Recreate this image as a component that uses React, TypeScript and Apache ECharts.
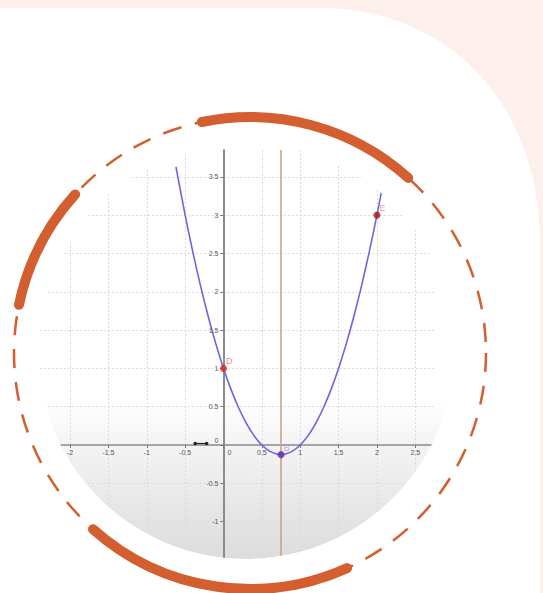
import React, { useEffect, useRef } from "react";
import * as echarts from "echarts";

// Parabola (x, y)
const curveX = [
  -0.62, -0.5, -0.4, -0.3, -0.2, -0.1, 0, 0.1, 0.2, 0.3, 0.4, 0.5, 0.6, 0.7, 0.75,
  0.8, 0.9, 1, 1.1, 1.2, 1.3, 1.4, 1.5, 1.6, 1.7, 1.8, 1.9, 2, 2.06,
];
const curveY = [
  3.63, 3.0, 2.52, 2.08, 1.68, 1.32, 1, 0.72, 0.48, 0.28, 0.12, 0, -0.08, -0.12, -0.125,
  -0.12, -0.08, 0, 0.12, 0.28, 0.48, 0.72, 1, 1.32, 1.68, 2.08, 2.52, 3, 3.31,
];

// Named points
const pointNames = ["D", "E", "B"];
const pointX = [0, 2, 0.75];
const pointY = [1, 3, -0.125];
const pointColors = ["#e3231c", "#a8161a", "#5b2aa6"];
const pointLabelColors = ["#f06464", "#f28a8a", "#b48ae6"];

// Vertical (axis of symmetry) line
const symmetryX = [0.75];

// Small segment on the x-axis
const segX = [-0.37, -0.22];
const segY = [0.02, 0.02];

// Axis ranges (ticks every 0.5)
const xRange = [-2.5, 2.75];
const yRange = [-1.5, 3.85];
const tickStep = 0.5;

const ORANGE = "#d35f30";

export default function App() {
  const ref = useRef<HTMLDivElement>(null);

  useEffect(() => {
    if (!ref.current) return;
    echarts.graphic.registerShape(
      "cardShape",
      echarts.graphic.extendPath("M-10 8 H320 C445 8 540 100 540 245 V610 H-10 Z", {})
    );
    echarts.graphic.registerShape(
      "maskShape",
      echarts.graphic.extendPath(
        "M18 128 H472 V580 H18 Z M454 351 A208 208 0 1 0 38 351 A208 208 0 1 0 454 351 Z",
        {}
      )
    );
    const chart = echarts.init(ref.current, undefined, { renderer: "svg" });

    const deg = (d: number) => (d * Math.PI) / 180;
    const C = { cx: 250, cy: 353, r: 236 };

    const gridLeft = 31.75;
    const gridWidth = 402.7;
    const gridTop = 150;
    const gridHeight = 410;
    // where zero falls inside the grid (layout offsets for the axes)
    const zeroXOffset = -gridWidth * (0 - xRange[0]) / (xRange[1] - xRange[0]);
    const zeroYOffset = -gridHeight * (0 - yRange[0]) / (yRange[1] - yRange[0]);

    const axisLabelBase = {
      fontSize: 7,
      color: "#555",
      fontFamily: "Liberation Sans, Arial, sans-serif",
    };

    chart.setOption({
      animation: false,
      backgroundColor: "#fdefeb",
      grid: { left: gridLeft, width: gridWidth, top: gridTop, height: gridHeight },
      xAxis: {
        type: "value",
        position: "bottom",
        offset: zeroYOffset,
        min: xRange[0],
        max: xRange[1],
        interval: tickStep,
        axisLine: { onZero: false, lineStyle: { color: "#8c8c8c", width: 1.5 } },
        axisTick: { show: true, length: 3, lineStyle: { color: "#777" } },
        axisLabel: {
          ...axisLabelBase,
          margin: 4,
          showMaxLabel: false,
          formatter: (v: number) => (v === 0 ? "{z|0}" : String(v)),
          rich: { z: { ...axisLabelBase, padding: [0, 0, 0, 12] } },
        },
        splitLine: {
          show: true,
          showMaxLine: false,
          lineStyle: { color: "#dadada", type: [2, 2], width: 1 },
        },
      },
      yAxis: {
        type: "value",
        position: "left",
        offset: zeroXOffset,
        min: yRange[0],
        max: yRange[1],
        interval: tickStep,
        axisLine: { onZero: false, lineStyle: { color: "#8c8c8c", width: 2 } },
        axisTick: { show: true, length: 3, lineStyle: { color: "#777" } },
        axisLabel: {
          ...axisLabelBase,
          margin: 5,
          showMaxLabel: false,
          formatter: (v: number) => (v === 0 ? "{z|0}" : String(v)),
          rich: { z: { ...axisLabelBase, padding: [0, 0, 10, 0] } },
        },
        splitLine: {
          show: true,
          showMaxLine: false,
          lineStyle: { color: "#dadada", type: [2, 2], width: 1 },
        },
      },
      series: [
        {
          type: "line",
          data: curveX.map((x, i) => [x, curveY[i]]),
          smooth: 0.3,
          showSymbol: false,
          symbol: "none",
          lineStyle: { color: "#6a66e0", width: 1.6 },
          z: 3,
          markLine: {
            silent: true,
            symbol: "none",
            label: { show: false },
            lineStyle: { color: "#c9a07f", type: "solid", width: 1.5 },
            data: symmetryX.map((x) => ({ xAxis: x })),
          },
        },
        {
          type: "line",
          data: segX.map((x, i) => [x, segY[i]]),
          symbol: "circle",
          symbolSize: 3.5,
          lineStyle: { color: "#222", width: 1.2 },
          itemStyle: { color: "#222" },
          z: 4,
        },
        {
          type: "scatter",
          data: pointNames.map((n, i) => ({
            name: n,
            value: [pointX[i], pointY[i]],
            itemStyle: { color: pointColors[i] },
            label: { color: pointLabelColors[i] },
          })),
          symbolSize: 7,
          z: 5,
          label: {
            show: true,
            formatter: "{b}",
            position: [6, -8],
            fontSize: 9,
            fontFamily: "Liberation Sans, Arial, sans-serif",
          },
        },
      ],
      graphic: [
        { type: "cardShape", z: -30, silent: true, style: { fill: "#ffffff" } },
        {
          type: "circle",
          z: -20,
          silent: true,
          shape: { cx: 246, cy: 351, r: 208 },
          style: {
            fill: {
              type: "linear",
              x: 0,
              y: 0,
              x2: 0,
              y2: 1,
              colorStops: [
                { offset: 0, color: "#ffffff" },
                { offset: 0.62, color: "#ffffff" },
                { offset: 0.72, color: "#f4f4f4" },
                { offset: 0.85, color: "#e9e9e9" },
                { offset: 1, color: "#dcdcdc" },
              ],
            },
          },
        },
        { type: "maskShape", z: 50, silent: true, style: { fill: "#ffffff" } },
        {
          type: "circle",
          z: 60,
          silent: true,
          shape: C,
          style: { fill: "none", stroke: ORANGE, lineWidth: 2.5, lineDash: [19, 14] },
        },
        ...[
          [191.8, 222.2],
          [258.2, 312.1],
          [65.7, 131.7],
        ].map(([a, b]) => ({
          type: "arc",
          z: 61,
          silent: true,
          shape: { ...C, startAngle: deg(a), endAngle: deg(b), clockwise: true },
          style: { fill: "none", stroke: ORANGE, lineWidth: 10, lineCap: "round" },
        })),
      ],
    });

    return () => chart.dispose();
  }, []);

  return (
    <div
      ref={ref}
      style={{ position: "fixed", left: 0, top: 0, width: 543, height: 593 }}
    />
  );
}
